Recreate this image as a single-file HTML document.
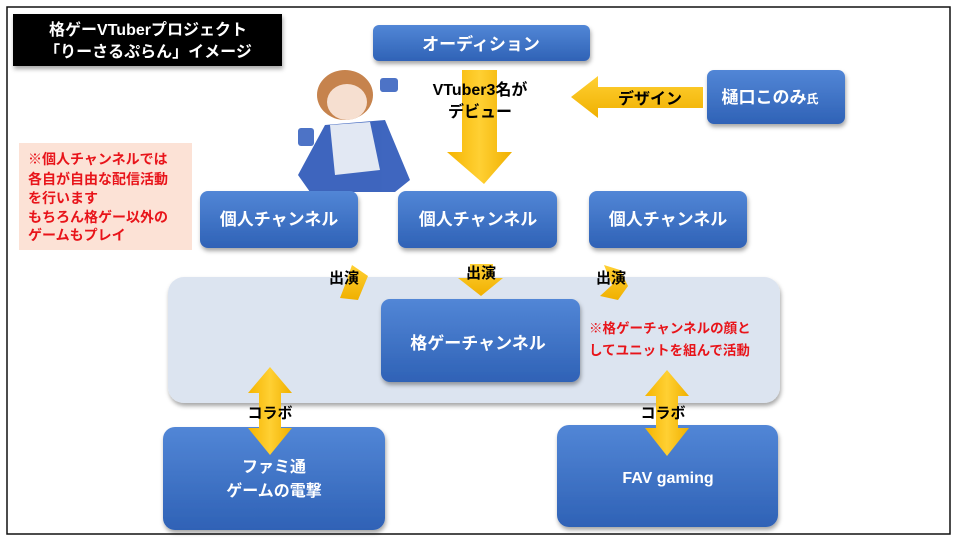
<!DOCTYPE html>
<html><head><meta charset="utf-8"><style>
html,body{margin:0;padding:0;background:#fff;}
svg text{font-family:"Liberation Sans","Noto Sans CJK JP",sans-serif;font-weight:bold;}
</style></head><body>
<svg width="960" height="540" viewBox="0 0 960 540" xmlns="http://www.w3.org/2000/svg">
<defs>
<linearGradient id="bl" x1="0" y1="0" x2="0" y2="1"><stop offset="0" stop-color="#5286d6"/><stop offset="1" stop-color="#2f62b6"/></linearGradient>
<linearGradient id="yl" x1="0" y1="0" x2="1" y2="0"><stop offset="0" stop-color="#f5b400"/><stop offset="0.5" stop-color="#ffd033"/><stop offset="1" stop-color="#f0b000"/></linearGradient>
<linearGradient id="yv" x1="0" y1="0" x2="0" y2="1"><stop offset="0" stop-color="#ffd033"/><stop offset="1" stop-color="#f0b000"/></linearGradient>
<filter id="sh" x="-10%" y="-10%" width="130%" height="140%"><feDropShadow dx="1" dy="3" stdDeviation="2" flood-color="#000" flood-opacity="0.35"/></filter>
</defs>
<rect x="7" y="7" width="943" height="527" fill="#fff" stroke="#111" stroke-width="1.5"/>
<!-- title -->
<rect x="13" y="14" width="269" height="52" fill="#000" filter="url(#sh)"/>
<text x="148" y="35" fill="#fff" font-size="16" text-anchor="middle">格ゲーVTuberプロジェクト</text>
<text x="148" y="57" fill="#fff" font-size="16" text-anchor="middle">「りーさるぷらん」イメージ</text>
<!-- audition -->
<rect x="373" y="25" width="217" height="36" rx="6" fill="url(#bl)" filter="url(#sh)"/>
<text x="481" y="50" fill="#fff" font-size="17" text-anchor="middle">オーディション</text>
<!-- big down arrow -->
<polygon points="462,70 497,70 497,152 512,152 484,184 447,152 462,152" fill="url(#yl)"/>
<text x="480" y="95" font-size="16" text-anchor="middle">VTuber3名が</text>
<text x="480" y="117" font-size="16" text-anchor="middle">デビュー</text>
<!-- design arrow -->
<polygon points="571,97 598,76 598,87 703,87 703,108 598,108 598,118" fill="url(#yv)"/>
<text x="650" y="104" font-size="16" text-anchor="middle">デザイン</text>
<rect x="707" y="70" width="138" height="54" rx="7" fill="url(#bl)" filter="url(#sh)"/>
<text x="770" y="103" fill="#fff" font-size="17" text-anchor="middle">樋口このみ<tspan font-size="12">氏</tspan></text>
<!-- character hint -->
<g opacity="0.9">
<ellipse cx="345" cy="95" rx="28" ry="25" fill="#c0763a"/>
<ellipse cx="347" cy="102" rx="20" ry="18" fill="#f6dccb"/>
<rect x="380" y="78" width="18" height="14" rx="3" fill="#3a64c0"/>
<polygon points="325,125 385,120 410,180 395,192 310,192 298,175" fill="#2a55b8"/>
<polygon points="330,125 370,122 380,170 335,175" fill="#dfe6f2"/>
<rect x="298" y="128" width="16" height="18" rx="3" fill="#3a64c0"/>
</g>
<!-- pink note -->
<rect x="19" y="143" width="173" height="107" fill="#fce2d6"/>
<g fill="#e8141a" font-size="14">
<text x="28" y="164">※個人チャンネルでは</text>
<text x="28" y="184">各自が自由な配信活動</text>
<text x="28" y="203">を行います</text>
<text x="28" y="222">もちろん格ゲー以外の</text>
<text x="28" y="240">ゲームもプレイ</text>
</g>
<!-- personal channels -->
<rect x="200" y="191" width="158" height="57" rx="8" fill="url(#bl)" filter="url(#sh)"/>
<text x="279" y="225" fill="#fff" font-size="17" text-anchor="middle">個人チャンネル</text>
<rect x="398" y="191" width="159" height="57" rx="8" fill="url(#bl)" filter="url(#sh)"/>
<text x="478" y="225" fill="#fff" font-size="17" text-anchor="middle">個人チャンネル</text>
<rect x="589" y="191" width="158" height="57" rx="8" fill="url(#bl)" filter="url(#sh)"/>
<text x="668" y="225" fill="#fff" font-size="17" text-anchor="middle">個人チャンネル</text>
<!-- big light box -->
<rect x="168" y="277" width="612" height="126" rx="16" fill="#dce4f0" filter="url(#sh)"/>
<!-- 出演 arrows -->
<polygon points="352,265 368,276 358,300 340,298 345,285" fill="url(#yv)"/>
<polygon points="470,264 493,264 493,278 503,278 481,296 458,278 470,278" fill="url(#yv)"/>
<polygon points="604,265 620,270 628,286 618,300 600,296 612,285" fill="url(#yv)"/>
<text x="344" y="283" font-size="15" text-anchor="middle">出演</text>
<text x="481" y="278" font-size="15" text-anchor="middle">出演</text>
<text x="611" y="283" font-size="15" text-anchor="middle">出演</text>
<!-- center box -->
<rect x="381" y="299" width="199" height="83" rx="9" fill="url(#bl)" filter="url(#sh)"/>
<text x="478" y="349" fill="#fff" font-size="17" text-anchor="middle">格ゲーチャンネル</text>
<text x="589" y="333" fill="#e8141a" font-size="13.5">※格ゲーチャンネルの顔と</text>
<text x="589" y="355" fill="#e8141a" font-size="13.5">してユニットを組んで活動</text>
<!-- bottom boxes -->
<rect x="163" y="427" width="222" height="103" rx="12" fill="url(#bl)" filter="url(#sh)"/>
<text x="274" y="472" fill="#fff" font-size="16" text-anchor="middle">ファミ通</text>
<text x="274" y="496" fill="#fff" font-size="16" text-anchor="middle">ゲームの電撃</text>
<rect x="557" y="425" width="221" height="102" rx="12" fill="url(#bl)" filter="url(#sh)"/>
<text x="668" y="483" fill="#fff" font-size="16" text-anchor="middle">FAV gaming</text>
<!-- double arrows -->
<polygon points="248,393 270,367 292,393 281,393 281,428 292,428 270,455 248,428 259,428 259,393" fill="url(#yl)"/>
<polygon points="645,396 667,370 689,396 678,396 678,428 689,428 667,456 645,428 656,428 656,396" fill="url(#yl)"/>
<text x="270" y="418" font-size="15" text-anchor="middle">コラボ</text>
<text x="663" y="418" font-size="15" text-anchor="middle">コラボ</text>
</svg>
</body></html>
